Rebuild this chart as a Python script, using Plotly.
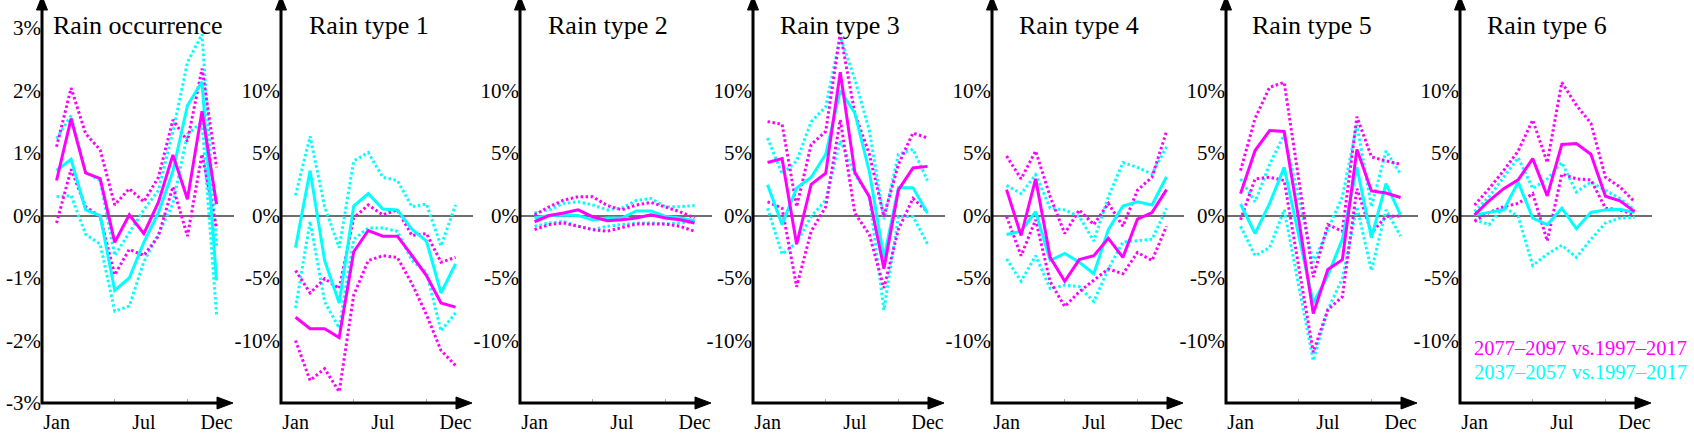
import plotly.graph_objects as go

# months on the x axis
months = list(range(1, 13))
month_ticks = [1, 7, 12]
month_labels = ["Jan", "Jul", "Dec"]

titles = ["Rain occurrence", "Rain type 1", "Rain type 2", "Rain type 3",
          "Rain type 4", "Rain type 5", "Rain type 6"]

# far = 2077-2097 vs 1997-2017 (magenta), near = 2037-2057 vs 1997-2017 (cyan)
# values in % change, lo/hi are the dotted bounds
occ_far = [0.56, 1.55, 0.68, 0.59, -0.43, 0.01, -0.29, 0.21, 0.97, 0.26, 1.67, 0.18]
occ_far_hi = [1.1, 2.04, 1.31, 1.05, 0.17, 0.43, 0.22, 0.61, 1.53, 1.19, 2.35, 0.77]
occ_far_lo = [-0.12, 0.74, 0.14, -0.02, -0.95, -0.54, -0.64, -0.33, 0.46, -0.33, 0.98, -0.2]
occ_near = [0.72, 0.9, 0.09, 0.0, -1.2, -1.0, -0.43, 0.04, 0.71, 1.76, 2.14, -1.04]
occ_near_hi = [1.23, 1.6, 0.69, 0.56, -0.64, -0.28, 0.09, 0.4, 1.34, 2.45, 2.9, -0.49]
occ_near_lo = [0.3, 0.32, -0.3, -0.46, -1.53, -1.45, -0.74, -0.3, 0.19, 1.3, 1.5, -1.59]

t1_far = [-8.14, -9.06, -9.06, -9.76, -2.9, -1.2, -1.65, -1.65, -3.2, -4.8, -7.0, -7.33]
t1_far_hi = [-4.4, -6.2, -5.05, -5.84, -0.2, 0.84, 0.05, 0.45, -1.6, -1.44, -3.74, -3.35]
t1_far_lo = [-10.0, -13.2, -12.25, -14.1, -6.36, -3.6, -3.22, -3.35, -5.45, -7.93, -10.8, -12.0]
t1_near = [-2.57, 3.59, -3.6, -7.0, 0.76, 1.75, 0.52, 0.45, -1.1, -2.04, -6.2, -3.87]
t1_near_hi = [1.62, 6.33, 0.7, -2.57, 4.37, 5.03, 3.06, 2.8, 0.7, 0.92, -2.43, 0.84]
t1_near_lo = [-7.4, -0.47, -6.9, -9.0, -1.9, -1.0, -1.0, -1.26, -3.6, -4.53, -9.24, -7.8]

t2_far = [-0.5, 0.0, 0.2, 0.45, -0.1, -0.42, -0.34, -0.2, 0.05, -0.2, -0.34, -0.6]
t2_far_hi = [0.05, 0.7, 1.23, 1.5, 1.5, 0.8, 0.45, 0.84, 1.05, 0.7, 0.3, -0.2]
t2_far_lo = [-1.13, -0.73, -0.6, -0.86, -1.13, -1.26, -1.0, -0.68, -0.68, -0.68, -0.87, -1.26]
t2_near = [-0.2, 0.0, 0.05, 0.0, -0.35, -0.2, -0.2, 0.37, 0.37, -0.08, -0.2, -0.42]
t2_near_hi = [0.2, 0.45, 0.97, 1.1, 0.84, 0.45, 0.6, 1.2, 1.36, 0.7, 0.7, 0.8]
t2_near_lo = [-0.86, -0.6, -0.47, -0.86, -1.13, -0.86, -0.73, -0.6, -0.6, -0.68, -0.6, -0.47]

t3_far = [4.24, 4.55, -2.3, 2.49, 3.38, 11.47, 3.46, 1.5, -4.25, 2.05, 3.8, 3.93]
t3_far_hi = [7.51, 7.3, 0.7, 5.68, 6.73, 14.58, 8.17, 4.9, -0.08, 4.1, 6.6, 6.2]
t3_far_lo = [1.1, 0.58, -5.7, -1.26, 0.7, 7.66, 0.18, -1.52, -5.8, -1.1, 1.36, 0.3]
t3_near = [2.46, -0.73, 2.2, 3.06, 4.9, 10.0, 8.2, 3.5, -3.4, 2.23, 2.23, 0.18]
t3_near_hi = [6.2, 3.32, 4.37, 7.5, 8.7, 14.3, 10.9, 6.8, -0.3, 4.9, 5.3, 2.8]
t3_near_lo = [0.58, -3.09, -2.17, -0.08, 1.23, 6.0, 3.32, 1.5, -7.56, -0.08, -0.08, -2.28]

t4_far = [2.07, -1.6, 2.93, -3.35, -5.26, -3.53, -3.22, -1.83, -3.35, -0.29, 0.24, 2.07]
t4_far_hi = [4.76, 2.93, 5.16, 1.5, -1.44, 0.45, -0.73, 0.97, -0.86, 2.02, 3.06, 6.73]
t4_far_lo = [-0.08, -3.22, -0.34, -5.3, -7.28, -6.1, -5.18, -4.27, -4.66, -2.96, -3.6, -0.86]
t4_near = [-1.52, -1.26, 0.31, -3.6, -3.04, -3.74, -4.66, -1.13, 0.76, 1.1, 0.84, 3.1]
t4_near_hi = [2.41, 1.75, 3.27, 0.58, 0.45, -0.08, -2.04, 1.5, 4.24, 3.85, 3.32, 5.5]
t4_near_lo = [-3.48, -5.26, -3.22, -5.84, -5.58, -5.7, -6.88, -4.27, -2.12, -2.04, -1.91, 0.58]

t5_far = [1.75, 5.2, 6.8, 6.73, -0.3, -7.85, -4.32, -3.53, 5.29, 1.96, 1.8, 1.44]
t5_far_hi = [3.59, 7.77, 10.26, 10.65, 2.9, -4.92, -0.73, -1.26, 7.9, 4.69, 4.37, 4.1]
t5_far_lo = [-0.34, 2.93, 3.06, 2.8, -4.1, -10.94, -7.54, -6.5, 2.15, -1.39, -0.08, -0.03]
t5_near = [0.92, -1.44, 0.97, 3.85, -1.6, -7.0, -4.8, -1.9, 3.85, -1.78, 2.54, 0.05]
t5_near_hi = [2.93, 1.1, 4.1, 6.47, 1.4, -3.74, -1.13, 1.5, 7.25, 0.7, 5.16, 3.32]
t5_near_lo = [-0.86, -3.22, -2.57, 0.45, -5.6, -11.6, -7.54, -5.05, 0.7, -4.4, 0.45, -1.65]

t6_far = [0.05, 1.18, 2.15, 2.85, 4.55, 1.57, 5.68, 5.76, 4.9, 1.54, 1.18, 0.31]
t6_far_hi = [0.84, 2.15, 3.59, 5.16, 7.64, 4.24, 10.65, 8.82, 7.38, 3.06, 2.28, 1.1]
t6_far_lo = [-0.47, 0.24, 0.7, 0.97, 1.75, -2.04, 3.32, 2.93, 2.85, 0.58, 0.45, 0.05]
t6_near = [0.05, 0.24, 0.45, 2.67, -0.21, -0.73, 0.58, -1.05, 0.24, 0.45, 0.5, 0.26]
t6_near_hi = [0.31, 1.5, 3.06, 4.63, 2.15, 2.93, 4.24, 1.88, 2.67, 2.02, 1.36, 0.45]
t6_near_lo = [-0.34, -0.73, 0.7, -0.08, -4.0, -3.09, -2.38, -3.35, -1.91, -0.6, -0.21, -0.13]

occ_ticks = [-3, -2, -1, 0, 1, 2, 3]
type_ticks = [-10, -5, 0, 5, 10]

legend_far = "2077–2097 vs.1997–2017"
legend_near = "2037–2057 vs.1997–2017"

panels = [
    (occ_far, occ_far_hi, occ_far_lo, occ_near, occ_near_hi, occ_near_lo),
    (t1_far, t1_far_hi, t1_far_lo, t1_near, t1_near_hi, t1_near_lo),
    (t2_far, t2_far_hi, t2_far_lo, t2_near, t2_near_hi, t2_near_lo),
    (t3_far, t3_far_hi, t3_far_lo, t3_near, t3_near_hi, t3_near_lo),
    (t4_far, t4_far_hi, t4_far_lo, t4_near, t4_near_hi, t4_near_lo),
    (t5_far, t5_far_hi, t5_far_lo, t5_near, t5_near_hi, t5_near_lo),
    (t6_far, t6_far_hi, t6_far_lo, t6_near, t6_near_hi, t6_near_lo),
]

W, H = 1694, 433
TOP, BOTTOM = 28, 24
axis_px = [42, 281, 520, 753, 992, 1226, 1460]  # y axis position of each panel
plot_w = 192
title_off = [96, 88, 88, 87, 87, 86, 87]
MAGENTA = "#ff00ff"
CYAN = "#00ffff"
FONT = "Liberation Serif, Times New Roman, serif"
DOT = "2.5px,2.5px"

fig = go.Figure()
shapes = []
annotations = []
plot_h = H - TOP - BOTTOM

for i, (far, far_hi, far_lo, near, near_hi, near_lo) in enumerate(panels):
    n = i + 1
    xa = "x" if n == 1 else "x%d" % n
    ya = "y" if n == 1 else "y%d" % n

    # dotted bounds first, solid lines on top
    for vals, col, dash, w in [(near_hi, CYAN, DOT, 3), (near_lo, CYAN, DOT, 3),
                               (far_hi, MAGENTA, DOT, 3), (far_lo, MAGENTA, DOT, 3),
                               (near, CYAN, "solid", 3), (far, MAGENTA, "solid", 3)]:
        fig.add_trace(go.Scatter(x=months, y=vals, mode="lines", xaxis=xa, yaxis=ya,
                                 line=dict(color=col, width=w, dash=dash),
                                 showlegend=False, hoverinfo="skip"))

    a = axis_px[i]
    if n == 1:
        yr, tv = [-3, 3], occ_ticks
    else:
        yr, tv = [-15, 15], type_ticks
    fig.update_layout(**{
        ("xaxis" if n == 1 else "xaxis%d" % n): dict(
            domain=[a / W, (a + plot_w) / W], range=[0, 13.2], anchor=ya,
            tickmode="array", tickvals=month_ticks, ticktext=month_labels,
            showgrid=False, zeroline=False, showline=False, ticks="",
            ticklabelstandoff=5,
            minor=dict(tickmode="linear", tick0=0, dtick=5, ticks="inside",
                       ticklen=4, tickwidth=1, tickcolor="#aaaaaa"),
            tickfont=dict(family=FONT, size=20, color="black")),
        ("yaxis" if n == 1 else "yaxis%d" % n): dict(
            domain=[0, 1], range=yr, anchor=xa,
            tickmode="array", tickvals=tv, ticktext=["%d%%" % v for v in tv],
            showgrid=False, showline=False, ticks="",
            zeroline=True, zerolinecolor="#6e6e6e", zerolinewidth=1.5,
            tickfont=dict(family=FONT, size=21, color="black")),
    })

    # axes with arrow heads, pixel sized paths anchored at the panel corner
    common = dict(xref="paper", yref="paper", xsizemode="pixel", ysizemode="pixel",
                  xanchor=a / W, yanchor=0, layer="above")
    shapes.append(dict(type="path", path="M0,394 L0,0 L176,0",
                       line=dict(color="black", width=3), **common))
    shapes.append(dict(type="path", path="M-5.5,393 L5.5,393 L0,407 Z",
                       fillcolor="black", line=dict(color="black", width=1), **common))
    shapes.append(dict(type="path", path="M175,6 L175,-6 L191,0 Z",
                       fillcolor="black", line=dict(color="black", width=1), **common))

    annotations.append(dict(text=titles[i], xref="paper", yref="paper",
                            x=(a + title_off[i]) / W, y=(H - BOTTOM - 25) / plot_h,
                            xanchor="center", yanchor="middle", showarrow=False,
                            font=dict(family=FONT, size=26, color="black")))

annotations.append(dict(text=legend_far, xref="paper", yref="paper",
                        x=1472 / W, y=(H - BOTTOM - 353) / plot_h, xanchor="left", yanchor="middle",
                        showarrow=False, font=dict(family=FONT, size=20.5, color=MAGENTA)))
annotations.append(dict(text=legend_near, xref="paper", yref="paper",
                        x=1472 / W, y=(H - BOTTOM - 378) / plot_h, xanchor="left", yanchor="middle",
                        showarrow=False, font=dict(family=FONT, size=20.5, color=CYAN)))

fig.update_layout(width=W, height=H, margin=dict(l=0, r=0, t=TOP, b=BOTTOM),
                  paper_bgcolor="white", plot_bgcolor="white",
                  shapes=shapes, annotations=annotations, showlegend=False)

# the page body has a default 8px margin, drop it so the figure fills the window
fig.write_html("out.html", config={"displayModeBar": False},
               post_script="document.body.style.margin='0';document.body.style.overflow='hidden';")
